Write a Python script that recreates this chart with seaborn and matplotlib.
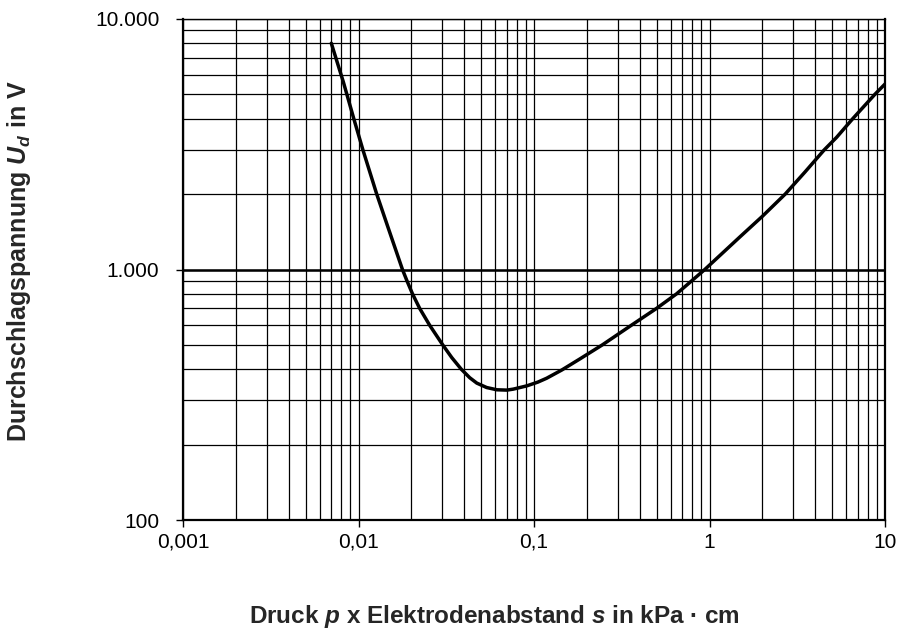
import matplotlib
matplotlib.use("Agg")
import matplotlib.pyplot as plt
import matplotlib.ticker as mticker
import seaborn as sns
import pandas as pd

# Paschen curve: breakdown voltage versus product of pressure and gap distance
ps_values = [0.007, 0.0082, 0.0094, 0.0106, 0.0127, 0.0146, 0.0178, 0.0189, 0.0203,
             0.0223, 0.0254, 0.0302, 0.0340, 0.0385, 0.043, 0.0472, 0.0537,
             0.0614, 0.070, 0.0762, 0.0908, 0.105, 0.118, 0.144, 0.183,
             0.245, 0.36, 0.50, 0.65, 0.79, 0.94, 1.5, 2.0, 2.7,
             3.5, 4.5, 5.3, 6.55, 8.75, 10.0]
ud_values = [8000, 5600, 4000, 3000, 2000, 1500, 1000, 900, 800,
             700, 600, 500, 445, 400, 370, 352, 338,
             331, 330, 333, 343, 355, 368, 397, 440,
             500, 600, 700, 800, 900, 1000, 1355, 1630, 2000,
             2450, 3000, 3370, 4000, 5000, 5500]

x_ticks = [0.001, 0.01, 0.1, 1, 10]
x_tick_labels = ["0,001", "0,01", "0,1", "1", "10"]
y_ticks = [100, 1000, 10000]
y_tick_labels = ["100", "1.000", "10.000"]

df = pd.DataFrame({"ps": ps_values, "ud": ud_values})

sns.set_style("white")
plt.rcParams["font.family"] = ["Liberation Sans", "DejaVu Sans"]
plt.rcParams["mathtext.fontset"] = "custom"
plt.rcParams["mathtext.rm"] = "Liberation Sans:bold"
plt.rcParams["mathtext.it"] = "Liberation Sans:italic:bold"
plt.rcParams["mathtext.bf"] = "Liberation Sans:italic:bold"

fig = plt.figure(figsize=(9.04, 6.34), dpi=100)
ax = fig.add_axes([183 / 904, 1 - 520 / 634, (885 - 183) / 904, (520 - 19) / 634])

sns.lineplot(data=df, x="ps", y="ud", ax=ax, color="black", linewidth=2.5,
             sort=False, estimator=None)

ax.set_xscale("log")
ax.set_yscale("log")
ax.set_xlim(0.001, 10)
ax.set_ylim(100, 10000)

ax.xaxis.set_major_locator(mticker.FixedLocator(x_ticks))
ax.xaxis.set_major_formatter(mticker.FixedFormatter(x_tick_labels))
ax.yaxis.set_major_locator(mticker.FixedLocator(y_ticks))
ax.yaxis.set_major_formatter(mticker.FixedFormatter(y_tick_labels))
ax.xaxis.set_minor_locator(mticker.LogLocator(base=10, subs=range(2, 10), numticks=20))
ax.yaxis.set_minor_locator(mticker.LogLocator(base=10, subs=range(2, 10), numticks=20))
ax.xaxis.set_minor_formatter(mticker.NullFormatter())
ax.yaxis.set_minor_formatter(mticker.NullFormatter())

ax.grid(which="both", axis="both", color="black", linewidth=0.9)
ax.axhline(1000, color="black", linewidth=1.8, zorder=1)
ax.set_axisbelow(True)

ax.tick_params(which="major", direction="out", length=5, width=1, color="black",
               labelsize=15, labelcolor="black", left=True, bottom=True)
ax.tick_params(axis="y", which="major", pad=12)
ax.tick_params(axis="x", which="major", pad=4)
ax.tick_params(which="minor", length=0)

for side, spine in ax.spines.items():
    spine.set_visible(True)
    spine.set_color("black")
    spine.set_linewidth(1.6 if side in ("left", "bottom", "right") else 1.0)

ax.set_xlabel("Druck $p$ x Elektrodenabstand $s$ in kPa \u00b7 cm",
              fontsize=17.5, fontweight="bold", labelpad=0)
ax.set_ylabel("Durchschlagspannung $U_d$ in V",
              fontsize=18, fontweight="bold", labelpad=0)
ax.xaxis.set_label_coords((494 - 183) / 702, -(617 - 520) / 501, transform=ax.transAxes)
ax.yaxis.set_label_coords(-(183 - 19) / 702, (520 - 261) / 501, transform=ax.transAxes)
ax.xaxis.label.set_va("center")
ax.yaxis.label.set_va("center")

fig.savefig("out.png", dpi=100)
